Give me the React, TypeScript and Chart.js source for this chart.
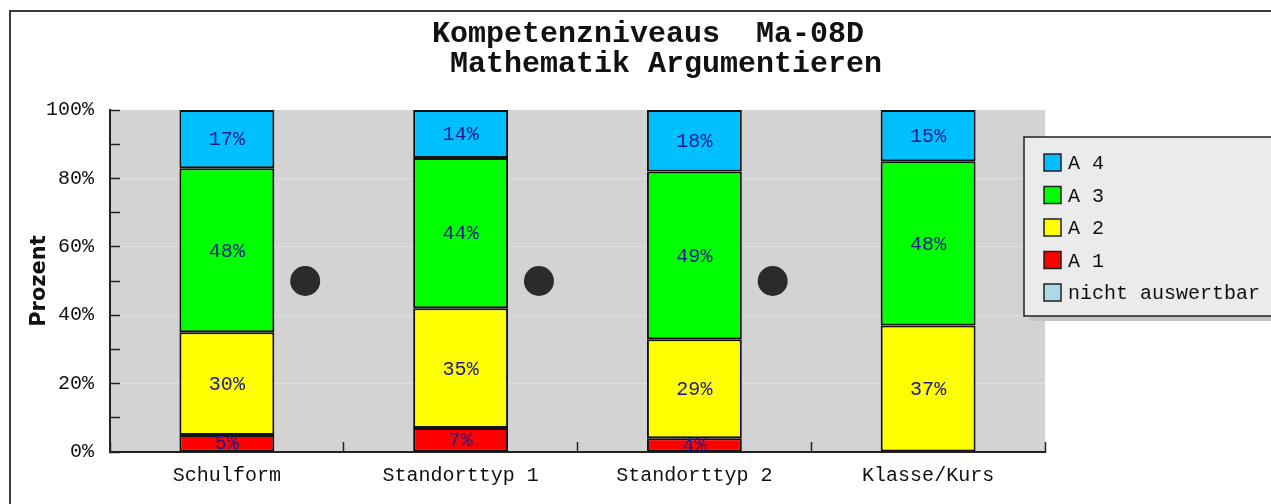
import React, { useEffect, useRef } from 'react';
import { Chart, registerables } from 'chart.js';

Chart.register(...registerables);

// ---- data ----
const TITLE_LINES = ['Kompetenzniveaus  Ma-08D', ' Mathematik Argumentieren'];
const Y_TITLE = 'Prozent';
const categories = ['Schulform', 'Standorttyp 1', 'Standorttyp 2', 'Klasse/Kurs'];
const seriesLabels = ['nicht auswertbar', 'A 1', 'A 2', 'A 3', 'A 4'];
const nichtAuswertbar = [0, 0, 0, 0];
const a1 = [5, 7, 4, 0];
const a2 = [30, 35, 29, 37];
const a3 = [48, 44, 49, 48];
const a4 = [17, 14, 18, 15];
const seriesColors = ['#add8e6', '#ff0000', '#ffff00', '#00ff00', '#00bfff'];
const dotX = [0.335, 1.335, 2.335];
const dotY = [50, 50, 50];

const MONO = 'Liberation Mono';

const decorPlugin = {
  id: 'decor',
  beforeDraw(chart: any) {
    const { ctx, chartArea } = chart;
    ctx.save();
    ctx.fillStyle = '#ffffff';
    ctx.fillRect(0, 0, chart.width, chart.height);
    ctx.strokeStyle = '#3a3a3a';
    ctx.lineWidth = 2;
    ctx.strokeRect(10, 11, chart.width + 50, chart.height + 50);
    ctx.fillStyle = '#d3d3d3';
    ctx.fillRect(chartArea.left, chartArea.top, chartArea.right - chartArea.left, chartArea.bottom - chartArea.top);
    ctx.restore();
  },
  afterDatasetsDraw(chart: any) {
    const { ctx } = chart;
    ctx.save();
    ctx.font = `20px "${MONO}"`;
    ctx.fillStyle = '#1c1c8c';
    ctx.textAlign = 'center';
    ctx.textBaseline = 'middle';
    chart.data.datasets.forEach((ds: any, di: number) => {
      if (ds.type === 'line') return;
      const meta = chart.getDatasetMeta(di);
      meta.data.forEach((el: any, i: number) => {
        const v = ds.data[i];
        if (!v) return;
        ctx.fillText(`${v}%`, el.x, (el.y + el.base) / 2 + 1);
      });
    });
    ctx.restore();
  },
  afterDraw(chart: any) {
    const { ctx } = chart;
    ctx.save();
    // title
    ctx.font = `bold 30px "${MONO}"`;
    ctx.fillStyle = '#111';
    ctx.textAlign = 'left';
    ctx.textBaseline = 'middle';
    TITLE_LINES.forEach((t, i) => ctx.fillText(t, 432, 34 + i * 30));
    // legend
    const lx = 1024, ly = 137, lw = 300, lh = 179;
    ctx.fillStyle = '#c4c4c4';
    ctx.fillRect(lx + 5, ly + 5, lw, lh);
    ctx.fillStyle = '#ebebeb';
    ctx.fillRect(lx, ly, lw, lh);
    ctx.strokeStyle = '#222';
    ctx.lineWidth = 1.5;
    ctx.strokeRect(lx, ly, lw, lh);
    const items = chart.data.datasets
      .filter((d: any) => d.type !== 'line')
      .slice()
      .reverse();
    ctx.font = `20px "${MONO}"`;
    items.forEach((d: any, i: number) => {
      const cy = 163 + i * 32.5;
      ctx.fillStyle = d.backgroundColor;
      ctx.fillRect(1044, cy - 9, 17, 17);
      ctx.strokeStyle = '#222';
      ctx.lineWidth = 1.5;
      ctx.strokeRect(1044, cy - 9, 17, 17);
      ctx.fillStyle = '#111';
      ctx.fillText(d.label, 1068, cy + 1);
    });
    ctx.restore();
  },
};

export default function App() {
  const ref = useRef<HTMLCanvasElement>(null);
  useEffect(() => {
    const canvas = ref.current;
    if (!canvas) return;
    const seriesData = [nichtAuswertbar, a1, a2, a3, a4];
    const datasets: any[] = seriesData.map((data, i) => ({
      type: 'bar',
      label: seriesLabels[i],
      data,
      stack: 'main',
      grouped: false,
      backgroundColor: seriesColors[i],
      borderColor: '#111',
      borderWidth: (c: any) => (c.raw ? 2 : 0),
      borderSkipped: false,
      categoryPercentage: 1,
      barPercentage: 0.406,
      xAxisID: 'x',
      yAxisID: 'y',
    }));
    datasets.push({
      type: 'line',
      label: 'dots',
      data: dotX.map((x, i) => ({ x, y: dotY[i] })),
      xAxisID: 'x2',
      yAxisID: 'y',
      stack: 'dots',
      showLine: false,
      pointRadius: 15,
      pointHoverRadius: 15,
      pointBackgroundColor: '#2b2b2b',
      pointBorderWidth: 0,
      borderColor: '#2b2b2b',
    });
    const chart = new Chart(canvas, {
      type: 'bar',
      data: { labels: categories, datasets },
      options: {
        animation: false,
        responsive: false,
        events: [],
        layout: { padding: { top: 110, right: 226, bottom: 0, left: 0 } },
        plugins: { legend: { display: false }, title: { display: false }, tooltip: { enabled: false } },
        scales: {
          x: {
            stacked: true,
            border: { display: true, color: '#222', width: 2 },
            grid: {
              offset: true,
              drawOnChartArea: false,
              drawTicks: true,
              tickLength: -10,
              tickColor: '#222',
              tickWidth: 1.5,
            },
            ticks: { font: { family: MONO, size: 20 }, color: '#111', padding: 22 },
            afterFit: (s: any) => {
              s.height = 52;
            },
          },
          x2: { type: 'linear', display: false, min: -0.5, max: 3.5, offset: false },
          y: {
            stacked: true,
            min: 0,
            max: 100,
            border: { display: true, color: '#222', width: 2 },
            grid: {
              color: (c: any) =>
                c.tick && c.tick.value % 20 === 0 && c.tick.value > 0 && c.tick.value < 100
                  ? '#e0e0e0'
                  : 'rgba(0,0,0,0)',
              lineWidth: 1,
              tickLength: -10,
              tickColor: '#222',
              tickWidth: 1.5,
            },
            ticks: {
              stepSize: 10,
              autoSkip: false,
              callback: (v: any) => (Number(v) % 20 === 0 ? `${v}%` : ''),
              font: { family: MONO, size: 20 },
              color: '#111',
              padding: 26,
            },
            title: {
              display: true,
              text: Y_TITLE,
              font: { family: 'DejaVu Sans', size: 21, weight: 'bold' },
              color: '#111',
              padding: { top: 27, bottom: 0 },
            },
            afterFit: (s: any) => {
              s.width = 110;
            },
          },
        },
      } as any,
      plugins: [decorPlugin],
    });
    return () => chart.destroy();
  }, []);
  return (
    <div style={{ position: 'fixed', left: 0, top: 0, width: 1271, height: 504, background: '#fff' }}>
      <canvas ref={ref} width={1271} height={504} style={{ display: 'block', width: 1271, height: 504 }} />
    </div>
  );
}
